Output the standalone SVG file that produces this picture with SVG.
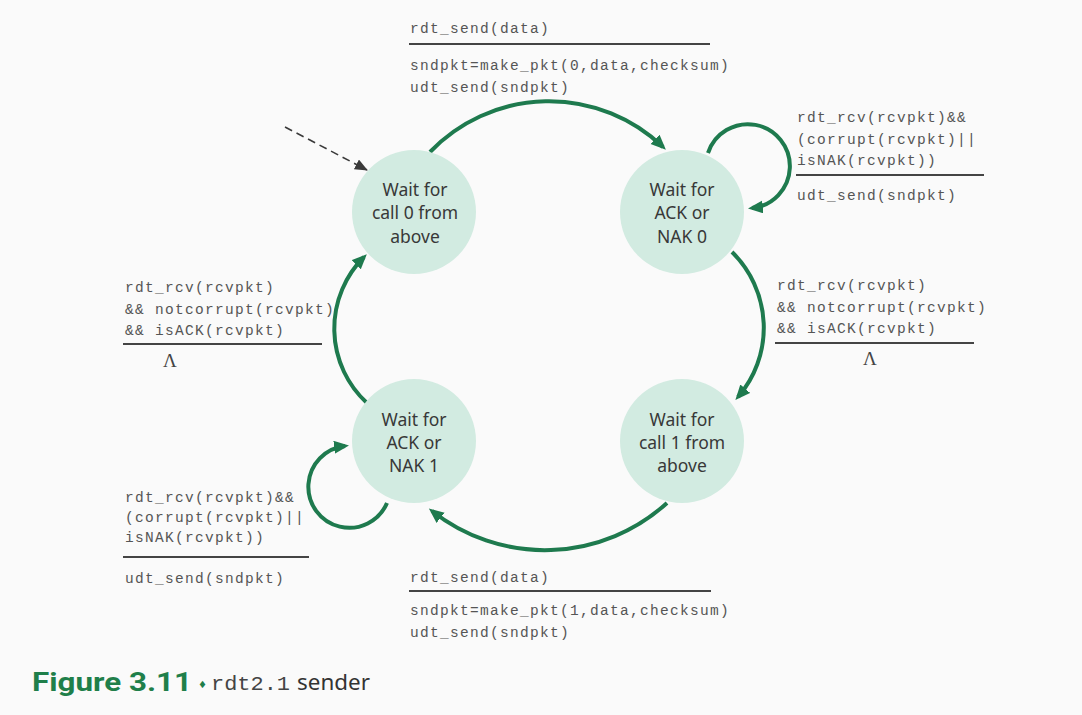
<svg xmlns="http://www.w3.org/2000/svg" width="1082" height="715" viewBox="0 0 1082 715">
<defs>
<style>
.node{fill:#d2ebe1;}
.ntxt{font-family:"Noto Sans","Open Sans","Liberation Sans",sans-serif;font-size:17.5px;fill:#383838;text-anchor:middle;}
.lbl{font-family:"Liberation Mono","DejaVu Sans Mono",monospace;font-size:14.5px;fill:#555;letter-spacing:1.3px;}
.bar{stroke:#444;stroke-width:2;}
.lam{font-family:"Liberation Serif",serif;font-size:19px;fill:#444;text-anchor:middle;}
.edge{fill:none;stroke:#1e7a4e;stroke-width:4;marker-end:url(#ah);}
</style>
<marker id="ah" markerUnits="userSpaceOnUse" markerWidth="16" markerHeight="14" refX="11" refY="6.5" orient="auto">
<path d="M0,0 L15,6.5 L0,13 z" fill="#1e7a4e"/>
</marker>
<marker id="ahd" markerUnits="userSpaceOnUse" markerWidth="14" markerHeight="12" refX="12" refY="5.5" orient="auto">
<path d="M0,0 L13,5.5 L0,11 z" fill="#3a3a3a"/>
</marker>
</defs>
<rect width="1082" height="715" fill="#fafafa"/>

<g id="connectors">
<path class="edge" d="M430,152 A165,165 0 0,1 663,147"/>
<path class="edge" d="M708,153 A42,42 0 1,1 752,208"/>
<path class="edge" d="M732,252 A106,106 0 0,1 738,397"/>
<path class="edge" d="M667,503 A182,182 0 0,1 432,511"/>
<path class="edge" d="M367,403 A101,101 0 0,1 364,257"/>
<path class="edge" d="M387,503 A41,41 0 1,1 345,446"/>
<line x1="285" y1="127" x2="367" y2="170" stroke="#3a3a3a" stroke-width="1.6" stroke-dasharray="8,5" marker-end="url(#ahd)"/>
</g>

<g id="call0">
<circle class="node" cx="414" cy="212" r="62"/>
<text class="ntxt" x="415" y="196">Wait for</text>
<text class="ntxt" x="415" y="219">call 0 from</text>
<text class="ntxt" x="415" y="243">above</text>
</g>
<g id="acknak0">
<circle class="node" cx="682" cy="212" r="62"/>
<text class="ntxt" x="682" y="196">Wait for</text>
<text class="ntxt" x="682" y="219">ACK or</text>
<text class="ntxt" x="682" y="243">NAK 0</text>
</g>
<g id="call1">
<circle class="node" cx="682" cy="441" r="62"/>
<text class="ntxt" x="682" y="426">Wait for</text>
<text class="ntxt" x="682" y="449">call 1 from</text>
<text class="ntxt" x="682" y="472">above</text>
</g>
<g id="acknak1">
<circle class="node" cx="414" cy="441" r="62"/>
<text class="ntxt" x="414" y="426">Wait for</text>
<text class="ntxt" x="414" y="449">ACK or</text>
<text class="ntxt" x="414" y="472">NAK 1</text>
</g>

<g id="label-top">
<text class="lbl" x="410" y="33">rdt_send(data)</text>
<line class="bar" x1="409" y1="44" x2="710" y2="44"/>
<text class="lbl" x="410" y="70">sndpkt=make_pkt(0,data,checksum)</text>
<text class="lbl" x="410" y="92">udt_send(sndpkt)</text>
</g>
<g id="label-right-loop">
<text class="lbl" x="797" y="122">rdt_rcv(rcvpkt)&amp;&amp;</text>
<text class="lbl" x="797" y="144">(corrupt(rcvpkt)||</text>
<text class="lbl" x="797" y="165">isNAK(rcvpkt))</text>
<line class="bar" x1="796" y1="175" x2="984" y2="175"/>
<text class="lbl" x="797" y="200">udt_send(sndpkt)</text>
</g>
<g id="label-right">
<text class="lbl" x="777" y="290">rdt_rcv(rcvpkt)</text>
<text class="lbl" x="777" y="312">&amp;&amp; notcorrupt(rcvpkt)</text>
<text class="lbl" x="777" y="333">&amp;&amp; isACK(rcvpkt)</text>
<line class="bar" x1="775" y1="343" x2="974" y2="343"/>
<text class="lam" x="870" y="365">Λ</text>
</g>
<g id="label-left">
<text class="lbl" x="125" y="292">rdt_rcv(rcvpkt)</text>
<text class="lbl" x="125" y="314">&amp;&amp; notcorrupt(rcvpkt)</text>
<text class="lbl" x="125" y="335">&amp;&amp; isACK(rcvpkt)</text>
<line class="bar" x1="123" y1="344" x2="322" y2="344"/>
<text class="lam" x="170" y="367">Λ</text>
</g>
<g id="label-left-loop">
<text class="lbl" x="125" y="502">rdt_rcv(rcvpkt)&amp;&amp;</text>
<text class="lbl" x="125" y="522">(corrupt(rcvpkt)||</text>
<text class="lbl" x="125" y="542">isNAK(rcvpkt))</text>
<line class="bar" x1="123" y1="557" x2="309" y2="557"/>
<text class="lbl" x="125" y="583">udt_send(sndpkt)</text>
</g>
<g id="label-bottom">
<text class="lbl" x="410" y="582">rdt_send(data)</text>
<line class="bar" x1="409" y1="591" x2="711" y2="591"/>
<text class="lbl" x="410" y="615">sndpkt=make_pkt(1,data,checksum)</text>
<text class="lbl" x="410" y="637">udt_send(sndpkt)</text>
</g>

<g id="caption">
<text x="32" y="691" font-family="Roboto,'Liberation Sans',sans-serif" font-weight="700" font-size="25" fill="#1f7f4a" textLength="160" lengthAdjust="spacingAndGlyphs">Figure 3.11</text>
<text x="198" y="688" font-family="'DejaVu Sans',sans-serif" font-size="10" fill="#1f7f4a">♦</text>
<text x="211" y="690" font-family="'Liberation Mono',monospace" font-size="21" fill="#444" textLength="79" lengthAdjust="spacingAndGlyphs">rdt2.1</text>
<text x="297" y="690" font-family="'Noto Sans','Liberation Sans',sans-serif" font-size="22" fill="#333" textLength="73" lengthAdjust="spacingAndGlyphs">sender</text>
</g>
</svg>
